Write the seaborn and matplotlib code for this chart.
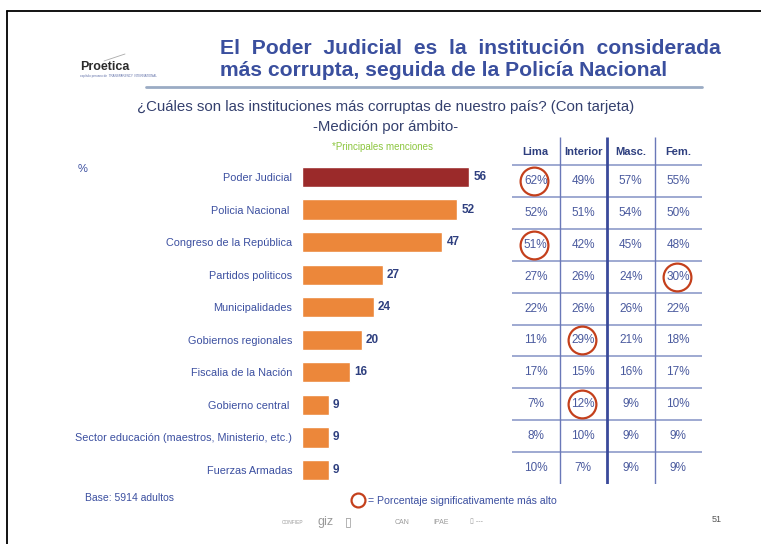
import numpy as np
import pandas as pd
import matplotlib
matplotlib.use("Agg")
import matplotlib.pyplot as plt
import seaborn as sns

### DATA ###

INSTITUCIONES = ["Poder Judicial", "Policia Nacional ", "Congreso de la República",
                 "Partidos politicos", "Municipalidades", "Gobiernos regionales",
                 "Fiscalia de la Nación", "Gobierno central ",
                 "Sector educación (maestros, Ministerio, etc.)", "Fuerzas Armadas"]
TOTAL = [56, 52, 47, 27, 24, 20, 16, 9, 9, 9]

COLUMNAS = ["Lima", "Interior", "Masc.", "Fem."]
LIMA = [62, 52, 51, 27, 22, 11, 17, 7, 8, 10]
INTERIOR = [49, 51, 42, 26, 26, 29, 15, 12, 10, 7]
MASC = [57, 54, 45, 24, 26, 21, 16, 9, 9, 9]
FEM = [55, 50, 48, 30, 22, 18, 17, 10, 9, 9]

# (fila, columna) significativamente mas alto
CIRCULOS = [(0, 0), (2, 0), (3, 3), (5, 1), (7, 1)]

### STYLE ###

W, H = 761, 544
BLUE = "#3b4fa0"
DARK_BLUE = "#2e3f7f"
TITLE_BLUE = "#3a4f9e"
ORANGE = "#ec873a"
DARK_RED = "#9b2a2a"
CIRCLE_RED = "#c4401c"

sns.set_theme(style="white")
plt.rcParams["font.family"] = ["Liberation Sans", "DejaVu Sans"]


def fx(x):
    return x / W


def fy(y):
    return 1 - y / H


def px_axes(fig, left, top, right, bottom):
    return fig.add_axes([fx(left), fy(bottom), (right - left) / W, (bottom - top) / H])


fig = plt.figure(figsize=(W / 100, H / 100), dpi=100)

# slide frame
fig.add_artist(plt.Line2D([fx(7), 1], [fy(11), fy(11)], color="black", lw=1.3))
fig.add_artist(plt.Line2D([fx(7), fx(7)], [fy(11), 0], color="black", lw=1.3))

# logo
fig.text(fx(80), fy(67), "Proetica", fontsize=9, fontweight="bold", color="#2b2b2b", va="center")
fig.text(fx(80), fy(76), "capítulo peruano de  TRANSPARENCY INTERNATIONAL", fontsize=2.2,
         color="#6070a8", va="center")
fig.add_artist(plt.Line2D([fx(104), fx(125)], [fy(61), fy(54)], color="#aaaaaa", lw=0.6))

# title
fig.text(fx(220), fy(49), "El  Poder  Judicial  es  la  institución  considerada", fontsize=15.2,
         fontweight="bold", color=TITLE_BLUE, va="center")
fig.text(fx(220), fy(71), "más corrupta, seguida de la Policía Nacional", fontsize=15.2,
         fontweight="bold", color=TITLE_BLUE, va="center")
fig.add_artist(plt.Line2D([fx(146), fx(702)], [fy(87), fy(87)], color="#9aabc4", lw=2))

fig.text(fx(386), fy(107), "¿Cuáles son las instituciones más corruptas de nuestro país? (Con tarjeta)",
         fontsize=10.8, color="#34406e", ha="center", va="center")
fig.text(fx(386), fy(127), "-Medición por ámbito-", fontsize=10.8,
         color="#34406e", ha="center", va="center")
fig.text(fx(382), fy(147), "*Principales menciones", fontsize=7, color="#8cc63f",
         ha="center", va="center")
fig.text(fx(78), fy(169), "%", fontsize=8, color=BLUE, va="center")

### BARS ###

df = pd.DataFrame({"institucion": INSTITUCIONES, "valor": TOTAL})
colors = [DARK_RED] + [ORANGE] * (len(INSTITUCIONES) - 1)

ax = px_axes(fig, 302, 160.7, 481, 486.3)
sns.barplot(data=df, x="valor", y="institucion", hue="institucion", palette=colors,
            legend=False, width=0.62, saturation=1, ax=ax)
ax.set_xlim(0, 60)
ax.set_ylim(9.5, -0.5)
for c in ax.containers:
    ax.bar_label(c, padding=3, fontsize=8.5, fontweight="bold", color=DARK_BLUE)
ax.set_xlabel("")
ax.set_ylabel("")
ax.set_xticks([])
ax.tick_params(axis="y", length=0, pad=7)
for lbl in ax.get_yticklabels():
    lbl.set_fontsize(7.8)
    lbl.set_color(BLUE)
sns.despine(ax=ax, left=True, bottom=True)
ax.patch.set_alpha(0)

### TABLE ###

tab = px_axes(fig, 512, 137, 702, 484)
tab.set_xlim(0, 4)
tab.set_ylim(9.5, -1.38)
tab.axis("off")

for j, col in enumerate(COLUMNAS):
    tab.text(j + 0.5, -0.9, col, ha="center", va="center", fontsize=8,
             fontweight="bold", color=DARK_BLUE)

for j, serie in enumerate([LIMA, INTERIOR, MASC, FEM]):
    for i, v in enumerate(serie):
        tab.text(j + 0.5, i, f"{v}%", ha="center", va="center", fontsize=8.5, color="#4a5a9e")

for i in range(len(INSTITUCIONES)):
    tab.plot([0, 4], [i - 0.5, i - 0.5], color="#8d9bc9", lw=1.2)
for j, lw, col in [(1, 1.0, "#6a78b8"), (2, 2.0, "#3a4a9a"), (3, 1.0, "#6a78b8")]:
    tab.plot([j, j], [-1.38, 9.5], color=col, lw=lw, solid_capstyle="butt")

for i, j in CIRCULOS:
    tab.plot(j + 0.47, i, marker="o", ms=20, mfc="none", mec=CIRCLE_RED, mew=1.6)

### FOOTER ###

fig.text(fx(85), fy(498), "Base: 5914 adultos", fontsize=7.5, color=BLUE, va="center")
fig.add_artist(plt.Line2D([fx(358)], [fy(500)], marker="o", ms=10, mfc="none",
                          mec=CIRCLE_RED, mew=1.6, transform=fig.transFigure))
fig.text(fx(368), fy(501), "= Porcentaje significativamente más alto", fontsize=7.6,
         color=BLUE, va="center")
fig.text(fx(712), fy(519), "51", fontsize=6.5, color="#555555", va="center")
for xp, name, sz in [(282, "CONFIEP", 3.5), (318, "giz", 9), (345, "▯", 9),
                     (395, "CAN", 5), (433, "IPAE", 5), (470, "▯ ---", 5)]:
    fig.text(fx(xp), fy(522), name, fontsize=sz, color="#9a9a9a", va="center")

plt.savefig("out.png", dpi=100)
